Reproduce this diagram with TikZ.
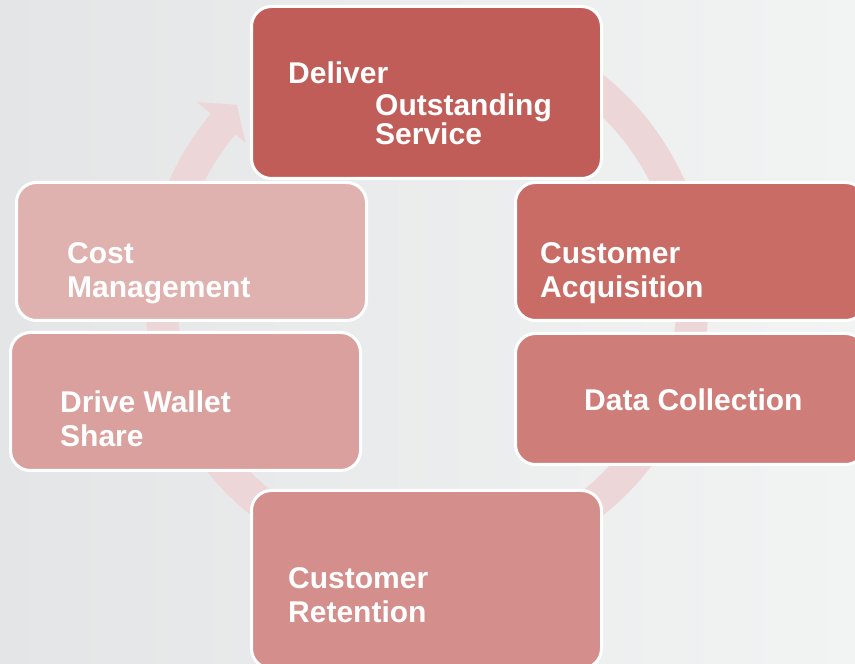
\documentclass[tikz,border=0pt]{standalone}
\usepackage{fontspec}
\setmainfont{Liberation Sans}
\usepackage{tikz}

\definecolor{bgleft}{HTML}{E4E5E6}
\definecolor{bgright}{HTML}{F2F3F3}
\definecolor{ringpink}{HTML}{EDD6D7}
\definecolor{deliverred}{HTML}{C05D58}
\definecolor{acqred}{HTML}{C96C66}
\definecolor{datared}{HTML}{CF7D79}
\definecolor{retainred}{HTML}{D48E8B}
\definecolor{walletred}{HTML}{D9A09D}
\definecolor{costred}{HTML}{E0B2AF}

\tikzset{
    stagebox/.style={draw=white, line width=3pt, rounded corners=20pt, minimum width=350pt},
    stagetext/.style={text=white, font=\bfseries\fontsize{30}{34.5}\selectfont, align=left, anchor=base west, inner sep=0pt}
}

\begin{document}
\begin{tikzpicture}[x=1pt,y=1pt]
                \useasboundingbox (0,0) rectangle (855,664);
                \shade [left color=bgleft, right color=bgright] (0,0) rectangle (855,664);

                % faint cycle arrow behind the stages
                \fill [ringpink, shift={(427,369)}] (75:282) arc[start angle=75, end angle=-220, radius=282]
                    -- (140:300) -- (135:269) -- (140:237) -- (140:250)
                    arc[start angle=-220, end angle=75, radius=250] -- cycle;

                \node [stagebox, fill=deliverred, minimum height=172pt] (deliver) at (426.5,571.5) {};
                \node [stagebox, fill=costred, minimum height=138pt] (cost) at (191.5,412.5) {};
                \node [stagebox, fill=acqred, minimum height=138pt] (acquisition) at (690.5,412.5) {};
                \node [stagebox, fill=walletred, minimum height=138pt] (wallet) at (185.5,262.5) {};
                \node [stagebox, fill=datared, minimum height=131pt] (data) at (690.5,265) {};
                \node [stagebox, fill=retainred, minimum height=178pt] (retention) at (426.5,84.5) {};

                % base anchor sits on the last line
                \node [stagetext, font=\bfseries\fontsize{30}{28}\selectfont] (delivertext) at (288,519) {
                    Deliver\\[4pt]
                    \hspace*{87pt}Outstanding\\
                    \hspace*{87pt}Service
                };
                \node [stagetext] (costtext) at (67,366) {
                    Cost\\
                    Management
                };
                \node [stagetext] (acquisitiontext) at (540,366) {
                    Customer\\
                    Acquisition
                };
                \node [stagetext] (wallettext) at (60,217) {
                    Drive Wallet\\
                    Share
                };
                \node [stagetext] (datatext) at (584,253) {
                    Data Collection
                };
                \node [stagetext] (retentiontext) at (288,41) {
                    Customer\\
                    Retention
                };
\end{tikzpicture}
\end{document}
